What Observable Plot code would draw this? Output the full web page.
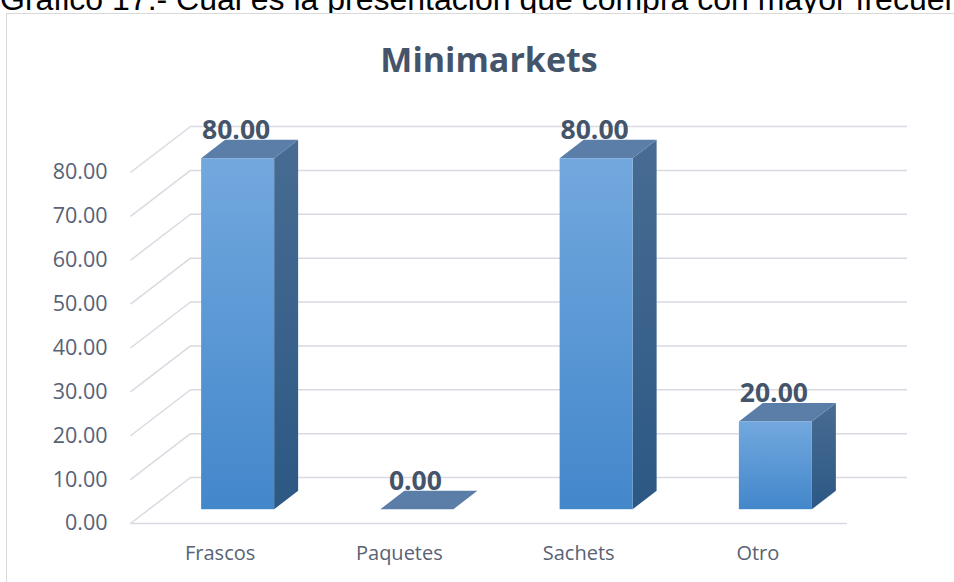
<!DOCTYPE html>
<html>
<head>
<meta charset="utf-8">
<script src="https://cdn.jsdelivr.net/npm/d3@7"></script>
<script src="https://cdn.jsdelivr.net/npm/@observablehq/plot@0.6"></script>
<style>
  html, body { margin: 0; padding: 0; background: #fff; }
  #wrap { position: relative; width: 954px; height: 582px; overflow: hidden; background: #fff; }
  #caption { position: absolute; left: 0; top: -17.1px; white-space: nowrap; font: 32px "Liberation Sans", Arial, sans-serif; line-height: 1; color: #000; }
  #frame { position: absolute; left: 6px; top: 13px; width: 1000px; height: 700px; border: 1.5px solid #d9d9d9; box-sizing: border-box; background: #fff; }
  #chart { position: absolute; left: 0; top: 0; }
</style>
</head>
<body>
<div id="wrap">
  <div id="caption"></div>
  <div id="frame"></div>
  <svg width="0" height="0" style="position:absolute">
    <defs>
      <linearGradient id="gFront" x1="0" y1="0" x2="0" y2="1">
        <stop offset="0" stop-color="#72a8de"/>
        <stop offset="1" stop-color="#4387cb"/>
      </linearGradient>
      <linearGradient id="gSide" x1="0" y1="0" x2="0" y2="1">
        <stop offset="0" stop-color="#486c93"/>
        <stop offset="1" stop-color="#2c5884"/>
      </linearGradient>
    </defs>
  </svg>
  <div id="chart"></div>
</div>
<script>
// ---- data ----
const caption = "Gráfico 17.- Cuál es la presentación que compra con mayor frecuencia";
const title = "Minimarkets";
const categories = ["Frascos", "Paquetes", "Sachets", "Otro"];
const values = [80.00, 0.00, 80.00, 20.00];
const yTicks = [0, 10, 20, 30, 40, 50, 60, 70, 80];

document.getElementById("caption").textContent = caption;

// ---- layout ----
const W = 954, H = 582;
const mL = 130, mR = 107, mT = 172, mB = 59;
const yMax = 80;
const kx = (W - mL - mR) / categories.length;   // px per x unit
const ky = (H - mT - mB) / yMax;                // px per y unit
const depthPx = {dx: 60, dy: 46};               // floor depth
const z0 = 0.3, z1 = 0.7;                       // bar depth placement
const barWpx = 73;
const barW = barWpx / kx;
const bdx = depthPx.dx * (z1 - z0) / kx;        // bar depth in x units
const bdy = depthPx.dy * (z1 - z0) / ky;        // bar depth in y units
const offX = depthPx.dx * z0, offY = -depthPx.dy * z0;

const rows = categories.map((c, i) => ({c, i, v: values[i], xc: i + 0.5}));
const sidePts = rows.flatMap(d => [0, 1].map(t => ({c: d.c, x: d.xc + barW / 2 + t * bdx, y1: t * bdy, y2: d.v + t * bdy})));
const topPts = rows.flatMap(d => [0, 1].map(t => ({c: d.c, y: d.v + t * bdy, x1: d.xc - barW / 2 + t * bdx, x2: d.xc + barW / 2 + t * bdx})));

const gridColor = "#d9dae2";
const textColor = "#44546a";
const axisColor = "#586274";
const font = "'Open Sans', sans-serif";

const chart = Plot.plot({
  width: W, height: H,
  marginLeft: mL, marginRight: mR, marginTop: mT, marginBottom: mB,
  x: {type: "linear", domain: [0, categories.length], axis: null},
  y: {domain: [0, yMax], axis: null},
  style: {background: "transparent", fontFamily: font, overflow: "visible"},
  marks: [
    // back wall gridlines
    Plot.ruleY(yTicks, {y: d => d, dx: depthPx.dx, dy: -depthPx.dy, stroke: gridColor, strokeWidth: 1.5}),
    // side wall diagonals
    Plot.link(yTicks, {x1: 0, x2: depthPx.dx / kx, y1: d => d, y2: d => d + depthPx.dy / ky, stroke: gridColor, strokeWidth: 1.5}),
    // front floor edge
    Plot.ruleY([0], {stroke: gridColor, strokeWidth: 1.5}),
    // bar side faces
    Plot.areaY(sidePts, {x: "x", y1: "y1", y2: "y2", z: "c", dx: offX, dy: offY, fill: "url(#gSide)"}),
    // bar top faces
    Plot.areaX(topPts, {y: "y", x1: "x1", x2: "x2", z: "c", dx: offX, dy: offY, fill: "#5a7ea8"}),
    // bar front faces
    Plot.rect(rows.filter(d => d.v > 0), {x1: d => d.xc - barW / 2, x2: d => d.xc + barW / 2, y1: 0, y2: "v", dx: offX, dy: offY, fill: "url(#gFront)"}),
    // value labels
    Plot.text(rows, {x: "xc", y: "v", text: d => d.v.toFixed(2), dx: 16, dy: -42, fontSize: 26.5, fontWeight: "bold", fill: textColor}),
    // y tick labels
    Plot.text(yTicks, {x: 0, y: d => d, text: d => d.toFixed(2), textAnchor: "end", dx: -23, fontSize: 21.5, fill: axisColor}),
    // category labels
    Plot.text(rows, {x: "xc", y: 0, text: "c", dy: 30, fontSize: 20, fill: axisColor}),
    // chart title
    Plot.text([title], {frameAnchor: "top", lineAnchor: "middle", text: d => d, dy: -111, fontSize: 34, fontWeight: "bold", fill: textColor})
  ]
});
document.getElementById("chart").appendChild(chart);
</script>
</body>
</html>
